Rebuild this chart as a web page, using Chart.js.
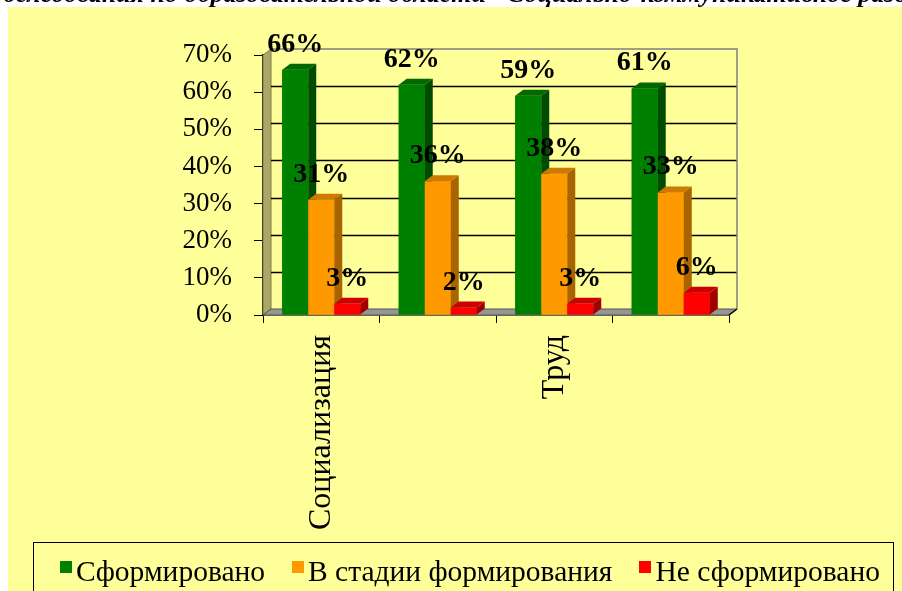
<!DOCTYPE html>
<html>
<head>
<meta charset="utf-8">
<script src="https://cdn.jsdelivr.net/npm/chart.js@4"></script>
<style>
  html, body { margin: 0; padding: 0; background: #fff; }
  #wrap { position: relative; width: 902px; height: 591px; overflow: hidden; }
  #title { position: absolute; left: -10px; top: -19px; white-space: nowrap; font: italic bold 26px "Liberation Serif", serif; line-height: 26px; color: #000; z-index: 2; }
  canvas { position: absolute; left: 0; top: 0; }
</style>
</head>
<body>
<div id="wrap">
  <canvas id="myChart" width="902" height="591"></canvas>
  <div id="title">обследования по образовательной области "Социально-коммуникативное развитие" на начало года рассмотрения</div>
</div>
<script>
const categories = ['Социализация', 'Коммуникация', 'Труд', 'Безопасность']
const formed = [66, 62, 59, 61]
const inProgress = [31, 36, 38, 33]
const notFormed = [3, 2, 3, 6]
const seriesNames = ['Сформировано', 'В стадии формирования', 'Не сформировано']
const yTicks = [0, 10, 20, 30, 40, 50, 60, 70]

// 3d look: front colour, top face, side face
const colFront = ['#008000', '#FF9900', '#FF0000']
const colTop = ['#006A00', '#CC7A00', '#CC0000']
const colSide = ['#004C00', '#A86400', '#A00000']
const dx = 8, dy = -6

const ctx = document.getElementById('myChart')

function poly(c, pts, fill) {
  c.beginPath()
  c.moveTo(pts[0][0], pts[0][1])
  for (var p of pts.slice(1)) c.lineTo(p[0], p[1])
  c.closePath()
  c.fillStyle = fill
  c.fill()
}

const scene3d = {
  id: 'scene3d',
  beforeDraw(chart) {
    const c = chart.ctx
    c.save()
    c.fillStyle = '#fff'
    c.fillRect(0, 0, chart.width, chart.height)
    c.fillStyle = '#FFFF99'
    c.fillRect(8, 7, chart.width - 8, chart.height - 7)
    c.restore()
  },
  beforeDatasetsDraw(chart) {
    const c = chart.ctx, a = chart.chartArea, ys = chart.scales.y
    c.save()
    // left wall
    poly(c, [[a.left, a.top], [a.left + dx, a.top + dy], [a.left + dx, a.bottom + dy], [a.left, a.bottom]], '#ADA664')
    c.strokeStyle = '#7A7A50'
    c.lineWidth = 1
    c.stroke()
    // floor
    poly(c, [[a.left, a.bottom], [a.left + dx, a.bottom + dy], [a.right + dx, a.bottom + dy], [a.right, a.bottom]], '#969696')
    c.strokeStyle = '#555'
    c.stroke()
    // grid on back wall
    c.strokeStyle = '#000'
    c.lineWidth = 1.5
    for (var v of yTicks) {
      if (v == 0 || v == yTicks[yTicks.length - 1]) continue
      var py = Math.round(ys.getPixelForValue(v) + dy) + 0.5
      c.beginPath()
      c.moveTo(a.left + dx, py)
      c.lineTo(a.right + dx, py)
      c.stroke()
    }
    // back wall border
    c.strokeStyle = '#808080'
    c.lineWidth = 1.5
    c.beginPath()
    c.moveTo(a.left + dx, a.top + dy)
    c.lineTo(a.right + dx, a.top + dy)
    c.lineTo(a.right + dx, a.bottom + dy)
    c.stroke()
    c.strokeStyle = '#000'
    c.beginPath()
    c.moveTo(a.right, a.bottom)
    c.lineTo(a.right + dx, a.bottom + dy)
    c.stroke()
    c.restore()
  },
  afterDatasetsDraw(chart) {
    const c = chart.ctx
    const metas = chart.data.datasets.map((ds, i) => chart.getDatasetMeta(i))
    c.save()
    // boxes, left to right so each bar covers the side of the one before
    for (var j = 0; j < categories.length; j++) {
      metas.forEach(function (meta, i) {
        const p = meta.data[j].getProps(['x', 'y', 'base', 'width'], true)
        const l = p.x - p.width / 2, r = p.x + p.width / 2
        poly(c, [[l, p.y], [r, p.y], [r, p.base], [l, p.base]], colFront[i])
        poly(c, [[l, p.y], [l + dx, p.y + dy], [r + dx, p.y + dy], [r, p.y]], colTop[i])
        poly(c, [[r, p.y], [r + dx, p.y + dy], [r + dx, p.base + dy], [r, p.base]], colSide[i])
      })
    }
    // value labels
    c.font = 'bold 28px "Liberation Serif", serif'
    c.fillStyle = '#000'
    c.textAlign = 'center'
    c.textBaseline = 'alphabetic'
    chart.data.datasets.forEach(function (ds, i) {
      metas[i].data.forEach(function (el, j) {
        c.fillText(ds.data[j] + '%', el.x, el.y - 18)
      })
    })
    c.restore()
  },
  afterDraw(chart) {
    // legend in a box at the bottom
    const c = chart.ctx
    c.save()
    c.strokeStyle = '#000'
    c.lineWidth = 1
    c.strokeRect(33.5, 542.5, 860, 80)
    c.font = '29.5px "Liberation Serif", serif'
    c.textBaseline = 'alphabetic'
    const box = 12, gap = 4, space = 27
    var widths = seriesNames.map(n => box + gap + c.measureText(n).width)
    var total = widths.reduce((s, w) => s + w, 0) + space * (widths.length - 1)
    var x = 470 - total / 2
    seriesNames.forEach(function (n, i) {
      c.fillStyle = colFront[i]
      c.fillRect(Math.round(x), 561, box, box)
      c.fillStyle = '#000'
      c.fillText(n, x + box + gap, 581)
      x += widths[i] + space
    })
    c.restore()
  }
}

const webchart = new Chart(ctx, {
  type: 'bar',
  data: {
    labels: categories,
    datasets: [
      { label: seriesNames[0], data: formed, backgroundColor: colFront[0] },
      { label: seriesNames[1], data: inProgress, backgroundColor: colFront[1] },
      { label: seriesNames[2], data: notFormed, backgroundColor: colFront[2] }
    ]
  },
  options: {
    responsive: false,
    animation: false,
    layout: { padding: { left: 0, top: 55, right: 173, bottom: 0 } },
    datasets: { bar: { categoryPercentage: 0.67, barPercentage: 1.0 } },
    plugins: { legend: { display: false }, tooltip: { enabled: false } },
    scales: {
      x: {
        grid: { display: true, drawOnChartArea: false, offset: true, tickLength: 8, color: '#000', lineWidth: 1 },
        border: { display: true, color: '#000', width: 1.5 },
        ticks: {
          color: '#000',
          font: { family: '"Liberation Serif", serif', size: 32 },
          minRotation: 90, maxRotation: 90, padding: 12, autoSkip: false,
          callback: function (v, i) { return i % 2 == 0 ? categories[i] : '' }
        },
        afterFit: function (scale) { scale.height = 276 }
      },
      y: {
        min: 0, max: 70,
        grid: { display: true, drawOnChartArea: false, tickLength: 9, color: '#000', lineWidth: 1 },
        border: { display: true, color: '#000', width: 1.5 },
        ticks: {
          stepSize: 10, color: '#000', padding: 22,
          font: { family: '"Liberation Serif", serif', size: 27 },
          callback: function (v) { return v + '%' }
        },
        afterFit: function (scale) { scale.width = 263 }
      }
    }
  },
  plugins: [scene3d]
})
</script>
</body>
</html>
